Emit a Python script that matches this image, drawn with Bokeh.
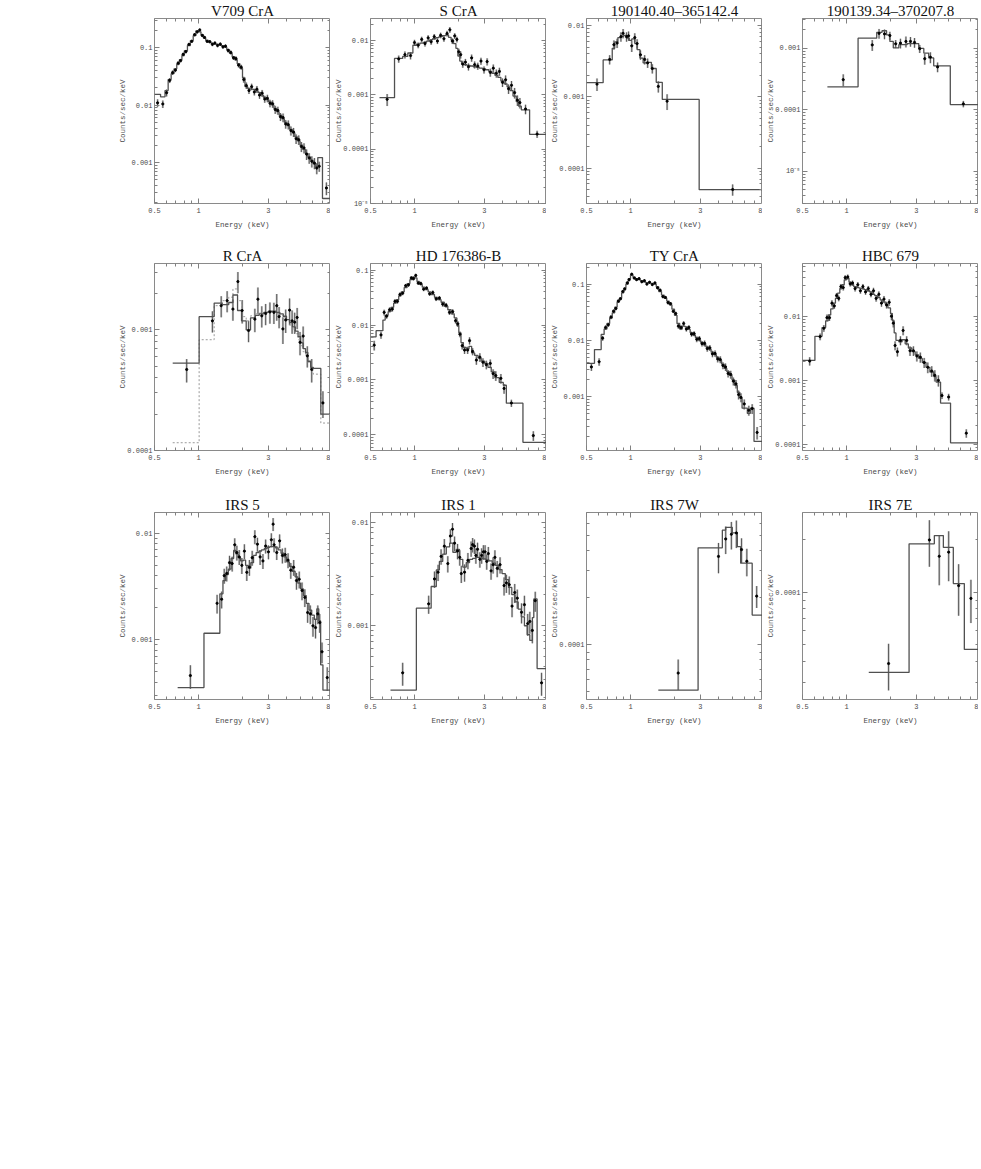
import math
from bokeh.plotting import figure
from bokeh.models import Range1d, FixedTicker, CustomJSTickFormatter, LogAxis, Title
from bokeh.layouts import column, row
from bokeh.embed import file_html
from bokeh.resources import INLINE

# ---------------- axis ticks / labels ----------------
X_TICKS = [0.5, 1, 3, 8]
X_MINOR = [0.6, 0.7, 0.8, 0.9, 2, 4, 5, 6, 7]
Y_MAJOR = [1e-6, 1e-5, 1e-4, 1e-3, 1e-2, 1e-1, 1.0]
Y_MINOR = [k * 10.0 ** n for n in range(-6, 0) for k in range(2, 10)]

# ---------------- V709 CrA ----------------
V709_EDGES = [0.50, 0.55, 0.59, 0.62, 0.65, 0.68, 0.71, 0.74, 0.77, 0.80, 0.84, 0.88, 0.92, 0.96, 1.00,
              1.04, 1.08, 1.12, 1.17, 1.22, 1.27, 1.32, 1.38, 1.44, 1.50, 1.56, 1.63, 1.70, 1.77, 1.84,
              1.92, 2.00, 2.08, 2.17, 2.26, 2.36, 2.46, 2.56, 2.67, 2.78, 2.90, 3.02, 3.15, 3.28, 3.42,
              3.56, 3.71, 3.87, 4.03, 4.20, 4.38, 4.56, 4.75, 4.95, 5.16, 5.38, 5.60, 5.84, 6.08, 6.34,
              6.55, 7.05, 8.0]
V709_MODEL = [0.0155, 0.014, 0.018, 0.028, 0.0355, 0.043, 0.052, 0.062, 0.0735, 0.089,
              0.11, 0.134, 0.163, 0.198, 0.19, 0.17, 0.148, 0.135, 0.125, 0.12,
              0.117, 0.115, 0.112, 0.108, 0.103, 0.093, 0.08, 0.07, 0.062, 0.053,
              0.044, 0.03, 0.021, 0.0195, 0.019, 0.0188, 0.0178, 0.0165, 0.015, 0.0137,
              0.0125, 0.0114, 0.0101, 0.0088, 0.0077, 0.0067, 0.0058, 0.005, 0.0044, 0.0038,
              0.0033, 0.0028, 0.0024, 0.002, 0.0017, 0.00145, 0.00125, 0.0011, 0.00095, 0.00083,
              0.00122, 0.000236]
V709_E = [0.525, 0.57, 0.605, 0.635, 0.665, 0.695, 0.725, 0.755, 0.785, 0.82,
          0.86, 0.90, 0.94, 0.98, 1.02, 1.06, 1.10, 1.145, 1.195, 1.245,
          1.295, 1.35, 1.41, 1.47, 1.53, 1.595, 1.665, 1.735, 1.805, 1.88,
          1.96, 2.04, 2.125, 2.215, 2.31, 2.41, 2.51, 2.615, 2.725, 2.84,
          2.96, 3.085, 3.215, 3.35, 3.49, 3.635, 3.79, 3.95, 4.115, 4.29,
          4.47, 4.655, 4.85, 5.055, 5.27, 5.49, 5.72, 5.96, 6.21, 6.445,
          6.7, 7.5]
V709_Y = [0.011, 0.0105, 0.0165, 0.027, 0.037, 0.041, 0.054, 0.06, 0.077, 0.086,
          0.115, 0.13, 0.17, 0.19, 0.205, 0.165, 0.152, 0.13, 0.128, 0.115,
          0.121, 0.11, 0.116, 0.104, 0.107, 0.09, 0.083, 0.067, 0.065, 0.05,
          0.046, 0.028, 0.022, 0.018, 0.021, 0.017, 0.019, 0.015, 0.0162, 0.0128,
          0.0132, 0.0108, 0.0106, 0.0084, 0.0081, 0.0063, 0.0061, 0.0047, 0.0046, 0.0036,
          0.0034, 0.0026, 0.0025, 0.0019, 0.0018, 0.0014, 0.0012, 0.00105, 0.00098, 0.0008,
          0.00086, 0.00036]
V709_ERR = [0.15, 0.15, 0.14, 0.1, 0.09, 0.08, 0.08, 0.07, 0.07, 0.07,
            0.06, 0.06, 0.06, 0.06, 0.06, 0.06, 0.06, 0.06, 0.06, 0.07,
            0.07, 0.07, 0.07, 0.07, 0.07, 0.08, 0.08, 0.08, 0.09, 0.09,
            0.1, 0.12, 0.13, 0.13, 0.13, 0.13, 0.14, 0.14, 0.14, 0.14,
            0.15, 0.15, 0.15, 0.16, 0.16, 0.16, 0.17, 0.17, 0.18, 0.18,
            0.18, 0.19, 0.19, 0.2, 0.2, 0.21, 0.21, 0.22, 0.22, 0.22,
            0.2, 0.25]

# ---------------- S CrA ----------------
SCRA_EDGES = [0.576, 0.73, 0.83, 0.90, 0.975, 1.03, 1.09, 1.15, 1.21, 1.27, 1.33, 1.40, 1.47, 1.55, 1.63,
              1.71, 1.78, 1.85, 1.92, 1.98, 2.04, 2.10, 2.18, 2.28, 2.40, 2.52, 2.65, 2.78, 2.92, 3.07,
              3.22, 3.38, 3.55, 3.72, 3.90, 4.10, 4.30, 4.50, 4.72, 4.97, 5.15, 5.38, 6.13, 8.0]
SCRA_MODEL = [8.9e-4, 4.7e-3, 5.1e-3, 5.9e-3, 8.2e-3, 8.6e-3, 9.0e-3, 9.3e-3, 9.8e-3, 0.0103,
              0.0108, 0.0113, 0.0118, 0.0123, 0.0127, 0.0115, 0.0103, 0.0088, 0.0072, 0.0052,
              0.0042, 0.0037, 0.0036, 0.0035, 0.0034, 0.0033, 0.0032, 0.0031, 0.003, 0.0029,
              0.0027, 0.0025, 0.0023, 0.0021, 0.0018, 0.0016, 0.0014, 0.0012, 0.00095, 0.00075,
              0.00062, 0.00053, 0.000187]
SCRA_E = [0.65, 0.78, 0.86, 0.94, 1.0, 1.06, 1.12, 1.18, 1.24, 1.30,
          1.365, 1.435, 1.51, 1.59, 1.67, 1.745, 1.815, 1.885, 1.95, 2.01,
          2.07, 2.14, 2.23, 2.34, 2.46, 2.58, 2.71, 2.85, 2.99, 3.14,
          3.30, 3.46, 3.63, 3.81, 4.0, 4.2, 4.4, 4.61, 4.84, 5.06,
          5.26, 5.75, 6.9]
SCRA_Y = [0.00083, 0.0046, 0.0055, 0.0053, 0.0092, 0.0082, 0.0105, 0.0088, 0.0112, 0.0095,
          0.0118, 0.0098, 0.0125, 0.0108, 0.0135, 0.0158, 0.0098, 0.0122, 0.0105, 0.0062,
          0.0055, 0.0037, 0.004, 0.0033, 0.0048, 0.0036, 0.0034, 0.0042, 0.0029, 0.0041,
          0.0026, 0.0031, 0.0025, 0.0027, 0.0017, 0.0019, 0.0013, 0.0015, 0.0011, 0.0008,
          0.00072, 0.00055, 0.00019]
SCRA_ERR = [0.25, 0.15, 0.15, 0.15, 0.12, 0.12, 0.12, 0.12, 0.12, 0.12,
            0.12, 0.12, 0.12, 0.12, 0.12, 0.12, 0.12, 0.12, 0.12, 0.14,
            0.15, 0.15, 0.15, 0.15, 0.15, 0.15, 0.15, 0.15, 0.15, 0.15,
            0.17, 0.17, 0.17, 0.17, 0.18, 0.2, 0.2, 0.2, 0.22, 0.22,
            0.22, 0.2, 0.15]

# ---------------- 190140.40-365142.4 ----------------
S190140_EDGES = [0.50, 0.65, 0.75, 0.78, 0.82, 0.86, 0.90, 0.94, 0.98, 1.02, 1.07, 1.11, 1.16, 1.22, 1.28,
                 1.39, 1.50, 1.65, 2.95, 8.0]
S190140_MODEL = [1.58e-3, 3.3e-3, 4.8e-3, 5.9e-3, 6.8e-3, 7.1e-3, 7.3e-3, 6.7e-3, 6.2e-3, 6.5e-3,
                 5.6e-3, 4.6e-3, 3.5e-3, 3.0e-3, 3.05e-3, 2.5e-3, 1.6e-3, 9.2e-4, 4.97e-5]
S190140_E = [0.59, 0.72, 0.77, 0.81, 0.86, 0.89, 0.94, 0.97, 1.02, 1.07, 1.11, 1.17, 1.25, 1.31, 1.41,
             1.55, 1.78, 5.0]
S190140_Y = [1.51e-3, 3.35e-3, 5.4e-3, 5.7e-3, 7.0e-3, 7.8e-3, 7.0e-3, 7.2e-3, 5.2e-3, 6.8e-3,
             5.6e-3, 3.9e-3, 3.35e-3, 3.0e-3, 2.5e-3, 1.4e-3, 8.7e-4, 5.0e-5]
S190140_ERR = [0.2, 0.15, 0.15, 0.15, 0.15, 0.15, 0.15, 0.15, 0.18, 0.15,
               0.15, 0.15, 0.15, 0.15, 0.15, 0.18, 0.25, 0.18]

# ---------------- 190139.34-370207.8 ----------------
S190139_EDGES = [0.74, 1.20, 1.61, 1.75, 1.88, 1.98, 2.09, 2.28, 2.60, 3.12, 3.38, 3.65, 3.95, 5.13, 8.0]
S190139_MODEL = [2.37e-4, 1.47e-3, 1.83e-3, 1.94e-3, 1.66e-3, 1.3e-3, 1.02e-3, 1.15e-3, 1.2e-3, 1.0e-3,
                 8.4e-4, 7.0e-4, 5.2e-4, 1.22e-4]
S190139_E = [0.95, 1.50, 1.67, 1.82, 1.98, 2.17, 2.34, 2.55, 2.74, 2.92, 3.17, 3.43, 3.75, 4.2, 6.3]
S190139_Y = [3.1e-4, 1.14e-3, 1.76e-3, 1.72e-3, 1.62e-3, 1.19e-3, 1.22e-3, 1.3e-3, 1.3e-3, 1.25e-3,
             9.9e-4, 6.8e-4, 7.2e-4, 5.0e-4, 1.25e-4]
S190139_ERR = [0.22, 0.2, 0.18, 0.18, 0.15, 0.15, 0.18, 0.2, 0.18, 0.18, 0.15, 0.2, 0.2, 0.18, 0.12]

# ---------------- R CrA ----------------
RCRA_EDGES = [0.666, 1.01, 1.28, 1.45, 1.61, 1.72, 1.85, 1.97, 2.12, 2.27, 2.45, 2.6, 2.8, 3.0, 3.2,
              3.4, 3.6, 3.8, 4.0, 4.2, 4.4, 4.6, 4.8, 5.0, 5.2, 5.4, 5.6, 5.85, 6.1, 6.87, 8.0]
RCRA_MODEL = [5.3e-4, 1.29e-3, 1.67e-3, 1.62e-3, 1.69e-3, 1.95e-3, 1.45e-3, 1.19e-3, 1.0e-3, 1.26e-3,
              1.32e-3, 1.36e-3, 1.4e-3, 1.43e-3, 1.43e-3, 1.4e-3, 1.36e-3, 1.3e-3, 1.22e-3, 1.15e-3,
              1.06e-3, 9.8e-4, 8.8e-4, 7.8e-4, 7.0e-4, 6.5e-4, 5.5e-4, 4.9e-4, 4.8e-4, 2.0e-4]
RCRA_MODEL2 = [1.16e-4, 8.3e-4, 1.59e-3, 1.75e-3, 1.87e-3, 2.19e-3, 1.75e-3, 1.29e-3, 1.19e-3, 1.31e-3,
               1.36e-3, 1.38e-3, 1.4e-3, 1.41e-3, 1.4e-3, 1.37e-3, 1.32e-3, 1.26e-3, 1.18e-3, 1.1e-3,
               1.02e-3, 9.3e-4, 8.3e-4, 7.4e-4, 6.6e-4, 6.1e-4, 5.4e-4, 4.6e-4, 4.3e-4, 1.69e-4]
RCRA_E = [0.83, 1.245, 1.43, 1.57, 1.72, 1.86, 1.99, 2.2, 2.43, 2.55,
          2.71, 2.88, 3.08, 3.28, 3.43, 3.56, 3.78, 3.95, 4.2, 4.37,
          4.55, 4.73, 4.95, 5.2, 5.55, 5.95, 7.1]
RCRA_Y = [4.7e-4, 1.19e-3, 1.59e-3, 1.75e-3, 1.49e-3, 2.52e-3, 1.45e-3, 9.9e-4, 1.23e-3, 1.8e-3,
          1.31e-3, 1.37e-3, 1.41e-3, 1.4e-3, 1.59e-3, 1.29e-3, 1.02e-3, 1.21e-3, 1.46e-3, 1.19e-3,
          1.16e-3, 1.27e-3, 7.9e-4, 8.9e-4, 6.1e-4, 4.7e-4, 2.48e-4]
RCRA_ERR = [0.22, 0.2, 0.2, 0.2, 0.2, 0.2, 0.22, 0.2, 0.22, 0.25,
            0.2, 0.2, 0.2, 0.2, 0.25, 0.2, 0.25, 0.22, 0.25, 0.22,
            0.2, 0.2, 0.22, 0.2, 0.2, 0.22, 0.25]

# ---------------- HD 176386-B ----------------
HD_EDGES = [0.50, 0.546, 0.608, 0.63, 0.66, 0.69, 0.72, 0.75, 0.78, 0.81, 0.85, 0.89, 0.93, 0.97, 1.0,
            1.04, 1.08, 1.13, 1.18, 1.24, 1.30, 1.37, 1.44, 1.52, 1.60, 1.69, 1.78, 1.87, 1.95, 2.01,
            2.08, 2.16, 2.26, 2.36, 2.46, 2.58, 2.72, 2.86, 3.02, 3.18, 3.35, 3.55, 3.80, 4.05, 4.25,
            5.52, 8.0]
HD_MODEL = [6.1e-3, 7.9e-3, 0.0123, 0.015, 0.0175, 0.021, 0.025, 0.029, 0.034, 0.04,
            0.048, 0.057, 0.067, 0.075, 0.072, 0.062, 0.055, 0.049, 0.044, 0.04,
            0.036, 0.032, 0.029, 0.026, 0.022, 0.019, 0.016, 0.0135, 0.0098, 0.0072,
            0.0048, 0.0039, 0.0037, 0.0041, 0.0031, 0.0028, 0.0025, 0.0022, 0.002, 0.0017,
            0.0014, 0.0011, 0.0009, 0.0008, 3.77e-4, 7.3e-5]
HD_E = [0.53, 0.59, 0.62, 0.645, 0.675, 0.705, 0.735, 0.765, 0.795, 0.83,
        0.87, 0.91, 0.95, 0.985, 1.02, 1.06, 1.105, 1.155, 1.21, 1.27,
        1.335, 1.405, 1.48, 1.56, 1.645, 1.735, 1.825, 1.91, 1.98, 2.045,
        2.12, 2.2, 2.31, 2.38, 2.5, 2.65, 2.8, 2.94, 3.1, 3.3,
        3.45, 3.6, 3.9, 4.1, 4.6, 6.5]
HD_Y = [4.3e-3, 6.6e-3, 0.017, 0.0145, 0.019, 0.0195, 0.027, 0.027, 0.036, 0.038,
        0.052, 0.054, 0.072, 0.07, 0.08, 0.058, 0.057, 0.045, 0.047, 0.037,
        0.039, 0.03, 0.031, 0.024, 0.023, 0.017, 0.0175, 0.012, 0.0105, 0.0068,
        0.0042, 0.0035, 0.0035, 0.0052, 0.0033, 0.0023, 0.0026, 0.0021, 0.0019, 0.002,
        0.0013, 0.0012, 0.00107, 0.0007, 0.00038, 9.7e-5]
HD_ERR = [0.2, 0.15, 0.12, 0.1, 0.1, 0.1, 0.09, 0.09, 0.09, 0.08,
          0.08, 0.08, 0.07, 0.07, 0.07, 0.07, 0.08, 0.08, 0.08, 0.08,
          0.09, 0.09, 0.09, 0.1, 0.1, 0.1, 0.11, 0.11, 0.12, 0.12,
          0.15, 0.15, 0.15, 0.15, 0.15, 0.18, 0.18, 0.18, 0.18, 0.18,
          0.2, 0.2, 0.2, 0.2, 0.15, 0.2]

# ---------------- TY CrA ----------------
TY_EDGES = [0.50, 0.567, 0.63, 0.66, 0.69, 0.72, 0.75, 0.78, 0.81, 0.84, 0.87, 0.90, 0.93, 0.965, 1.0,
            1.04, 1.08, 1.12, 1.17, 1.22, 1.27, 1.32, 1.38, 1.44, 1.50, 1.56, 1.63, 1.70, 1.77, 1.84,
            1.92, 2.00, 2.08, 2.17, 2.26, 2.36, 2.46, 2.56, 2.67, 2.78, 2.90, 3.02, 3.15, 3.28, 3.42,
            3.56, 3.71, 3.87, 4.03, 4.20, 4.38, 4.56, 4.75, 4.95, 5.16, 5.38, 5.60, 5.80, 6.30, 6.60,
            7.0, 8.0]
TY_MODEL = [3.94e-3, 6.9e-3, 0.0128, 0.016, 0.02, 0.025, 0.031, 0.039, 0.048, 0.057,
            0.07, 0.085, 0.1, 0.125, 0.145, 0.133, 0.125, 0.12, 0.115, 0.11,
            0.106, 0.104, 0.103, 0.1, 0.09, 0.074, 0.064, 0.056, 0.05, 0.043,
            0.036, 0.028, 0.02, 0.016, 0.018, 0.0175, 0.0157, 0.0138, 0.0124, 0.0113,
            0.0102, 0.0093, 0.0084, 0.0077, 0.007, 0.0062, 0.0056, 0.005, 0.0044, 0.0038,
            0.0032, 0.0028, 0.0024, 0.002, 0.0016, 0.0012, 0.00095, 0.00063, 0.00051, 0.00063,
            0.000162]
TY_E = [0.54, 0.61, 0.645, 0.675, 0.705, 0.735, 0.765, 0.795, 0.825, 0.855,
        0.885, 0.915, 0.95, 0.98, 1.02, 1.06, 1.10, 1.145, 1.195, 1.245,
        1.295, 1.35, 1.41, 1.47, 1.53, 1.595, 1.665, 1.735, 1.805, 1.88,
        1.96, 2.04, 2.125, 2.215, 2.31, 2.41, 2.51, 2.615, 2.725, 2.84,
        2.96, 3.085, 3.215, 3.35, 3.49, 3.635, 3.79, 3.95, 4.115, 4.29,
        4.47, 4.655, 4.85, 5.055, 5.27, 5.49, 5.70, 6.0, 6.45, 6.8,
        7.35]
TY_Y = [0.0034, 0.0042, 0.011, 0.017, 0.019, 0.026, 0.033, 0.037, 0.05, 0.055,
        0.074, 0.082, 0.105, 0.12, 0.15, 0.128, 0.12, 0.125, 0.11, 0.115,
        0.1, 0.108, 0.098, 0.105, 0.086, 0.078, 0.06, 0.058, 0.047, 0.045,
        0.033, 0.03, 0.018, 0.017, 0.02, 0.016, 0.017, 0.013, 0.0132, 0.0105,
        0.0108, 0.0088, 0.0089, 0.0072, 0.0074, 0.0058, 0.0059, 0.0047, 0.0046, 0.0036,
        0.0034, 0.0026, 0.0025, 0.0019, 0.0017, 0.0011, 0.00098, 0.00075, 0.00058, 0.00062,
        0.000234]
TY_ERR = [0.15, 0.15, 0.1, 0.09, 0.08, 0.08, 0.07, 0.07, 0.07, 0.06,
          0.06, 0.06, 0.06, 0.06, 0.05, 0.05, 0.05, 0.05, 0.05, 0.05,
          0.05, 0.05, 0.05, 0.05, 0.06, 0.06, 0.06, 0.06, 0.07, 0.07,
          0.07, 0.08, 0.1, 0.1, 0.1, 0.1, 0.1, 0.1, 0.1, 0.11,
          0.11, 0.11, 0.12, 0.12, 0.12, 0.13, 0.13, 0.13, 0.14, 0.14,
          0.15, 0.15, 0.16, 0.16, 0.17, 0.18, 0.18, 0.2, 0.2, 0.2,
          0.25]

# ---------------- HBC 679 ----------------
HBC_EDGES = [0.50, 0.608, 0.68, 0.72, 0.75, 0.78, 0.81, 0.84, 0.87, 0.90, 0.93, 0.965, 1.0, 1.04, 1.08,
             1.12, 1.17, 1.22, 1.27, 1.32, 1.38, 1.44, 1.50, 1.56, 1.63, 1.70, 1.77, 1.84, 1.92, 2.00,
             2.06, 2.12, 2.18, 2.28, 2.40, 2.52, 2.65, 2.80, 2.95, 3.12, 3.30, 3.50, 3.72, 3.95, 4.10,
             4.40, 5.15, 8.0]
HBC_MODEL = [2.05e-3, 4.87e-3, 6.65e-3, 8.5e-3, 0.0105, 0.013, 0.016, 0.019, 0.023, 0.027,
             0.031, 0.037, 0.039, 0.034, 0.031, 0.029, 0.028, 0.0275, 0.027, 0.026,
             0.025, 0.024, 0.022, 0.021, 0.0195, 0.018, 0.0168, 0.0155, 0.0135, 0.011,
             0.0085, 0.0055, 0.0042, 0.004, 0.0043, 0.0037, 0.0032, 0.0028, 0.0025, 0.0022,
             0.0019, 0.0016, 0.00135, 0.00115, 0.00094, 0.000443, 0.000106]
HBC_E = [0.56, 0.66, 0.70, 0.735, 0.765, 0.795, 0.825, 0.855, 0.885, 0.915,
         0.95, 0.98, 1.02, 1.06, 1.10, 1.145, 1.195, 1.245, 1.295, 1.35,
         1.41, 1.47, 1.53, 1.595, 1.665, 1.735, 1.805, 1.88, 1.96, 2.03,
         2.09, 2.15, 2.23, 2.34, 2.44, 2.58, 2.72, 2.87, 3.03, 3.2,
         3.4, 3.6, 3.83, 4.02, 4.25, 4.5, 5.0, 6.6]
HBC_Y = [2.0e-3, 4.8e-3, 6.5e-3, 9.5e-3, 0.0095, 0.016, 0.0145, 0.021, 0.019, 0.029,
         0.028, 0.04, 0.041, 0.032, 0.033, 0.027, 0.031, 0.025, 0.029, 0.024,
         0.027, 0.022, 0.025, 0.019, 0.022, 0.016, 0.0185, 0.015, 0.0165, 0.01,
         0.0078, 0.0035, 0.0028, 0.0042, 0.006, 0.0042, 0.0029, 0.0029, 0.0024, 0.0023,
         0.0019, 0.0016, 0.0014, 0.0012, 0.001, 0.00058, 0.00055, 0.00015]
HBC_ERR = [0.15, 0.12, 0.12, 0.12, 0.11, 0.11, 0.1, 0.1, 0.1, 0.1,
           0.1, 0.09, 0.09, 0.09, 0.09, 0.1, 0.1, 0.1, 0.1, 0.1,
           0.1, 0.1, 0.11, 0.11, 0.11, 0.12, 0.12, 0.12, 0.12, 0.13,
           0.14, 0.16, 0.16, 0.16, 0.16, 0.16, 0.17, 0.17, 0.18, 0.18,
           0.18, 0.19, 0.19, 0.2, 0.2, 0.12, 0.12, 0.15]

# ---------------- IRS 5 ----------------
IRS5_EDGES = [0.72, 1.09, 1.40, 1.47, 1.53, 1.60, 1.67, 1.74, 1.80, 1.87, 1.94, 2.02, 2.10, 2.19, 2.28,
              2.38, 2.48, 2.59, 2.70, 2.82, 2.95, 3.08, 3.22, 3.36, 3.51, 3.67, 3.84, 4.01, 4.19, 4.38,
              4.58, 4.78, 5.0, 5.22, 5.46, 5.70, 5.95, 6.2, 6.45, 6.65, 6.85, 7.1, 8.0]
IRS5_MODEL = [3.55e-4, 1.15e-3, 2.7e-3, 3.6e-3, 4.1e-3, 4.6e-3, 5.8e-3, 6.9e-3, 6.4e-3, 5.9e-3,
              5.5e-3, 5.6e-3, 5.0e-3, 4.7e-3, 5.3e-3, 6.2e-3, 6.6e-3, 6.8e-3, 7.0e-3, 7.2e-3,
              7.4e-3, 7.5e-3, 7.5e-3, 7.3e-3, 7.0e-3, 6.5e-3, 6.0e-3, 5.4e-3, 4.9e-3, 4.4e-3,
              3.9e-3, 3.4e-3, 3.0e-3, 2.6e-3, 2.2e-3, 1.9e-3, 1.7e-3, 1.55e-3, 1.95e-3, 1.5e-3,
              5.8e-4, 3.35e-4]
IRS5_E = [0.88, 1.34, 1.44, 1.50, 1.56, 1.63, 1.70, 1.77, 1.83, 1.90,
          1.98, 2.06, 2.14, 2.23, 2.33, 2.43, 2.53, 2.64, 2.76, 2.88,
          3.01, 3.15, 3.24, 3.29, 3.43, 3.59, 3.75, 3.92, 4.10, 4.28,
          4.48, 4.68, 4.89, 5.11, 5.34, 5.58, 5.82, 6.07, 6.32, 6.55,
          6.75, 7.0, 7.6]
IRS5_Y = [4.6e-4, 2.2e-3, 2.4e-3, 4.0e-3, 4.2e-3, 5.3e-3, 5.2e-3, 7.8e-3, 6.6e-3, 6.0e-3,
          5.0e-3, 6.8e-3, 4.3e-3, 4.8e-3, 5.9e-3, 9.3e-3, 7.9e-3, 6.0e-3, 5.5e-3, 7.6e-3,
          6.7e-3, 8.7e-3, 0.0122, 7.8e-3, 6.6e-3, 8.5e-3, 6.2e-3, 6.3e-3, 5.6e-3, 4.5e-3,
          4.8e-3, 3.6e-3, 3.7e-3, 2.9e-3, 2.5e-3, 1.8e-3, 1.75e-3, 1.35e-3, 1.3e-3, 1.75e-3,
          1.45e-3, 7.7e-4, 4.4e-4]
IRS5_ERR = [0.25, 0.2, 0.18, 0.16, 0.16, 0.16, 0.16, 0.15, 0.16, 0.16,
            0.17, 0.16, 0.17, 0.17, 0.16, 0.15, 0.15, 0.16, 0.16, 0.15,
            0.15, 0.15, 0.14, 0.15, 0.15, 0.15, 0.16, 0.16, 0.16, 0.17,
            0.17, 0.18, 0.18, 0.19, 0.19, 0.2, 0.2, 0.21, 0.21, 0.2,
            0.2, 0.22, 0.25]

# ---------------- IRS 1 ----------------
IRS1_EDGES = [0.685, 1.03, 1.30, 1.41, 1.48, 1.56, 1.65, 1.74, 1.83, 1.93, 2.03, 2.14, 2.26, 2.38, 2.50,
              2.63, 2.77, 2.92, 3.07, 3.23, 3.40, 3.58, 3.77, 3.97, 4.18, 4.40, 4.63, 4.87, 5.12, 5.38,
              5.65, 5.90, 6.15, 6.40, 6.55, 6.90, 8.0]
IRS1_MODEL = [2.38e-4, 1.48e-3, 2.4e-3, 3.47e-3, 4.2e-3, 4.95e-3, 5.8e-3, 6.3e-3, 5.15e-3, 5.5e-3,
              4.4e-3, 3.7e-3, 4.1e-3, 4.4e-3, 4.5e-3, 4.6e-3, 4.55e-3, 4.45e-3, 4.35e-3, 4.25e-3,
              4.05e-3, 3.85e-3, 3.5e-3, 3.2e-3, 2.8e-3, 2.35e-3, 2.0e-3, 1.7e-3, 1.45e-3, 1.22e-3,
              1.0e-3, 8.2e-4, 7.2e-4, 1.2e-3, 1.82e-3, 3.85e-4]
IRS1_E = [0.83, 1.25, 1.37, 1.45, 1.52, 1.60, 1.69, 1.76, 1.82, 1.88,
          1.97, 2.04, 2.09, 2.2, 2.32, 2.44, 2.5, 2.57, 2.63, 2.7,
          2.8, 2.88, 2.96, 3.04, 3.12, 3.2, 3.34, 3.45, 3.55, 3.68,
          3.85, 4.1, 4.25, 4.45, 4.65, 4.85, 5.05, 5.4, 5.65, 5.95,
          6.15, 6.4, 6.7, 7.4]
IRS1_Y = [3.5e-4, 1.63e-3, 2.84e-3, 3.3e-3, 4.7e-3, 5.9e-3, 4.0e-3, 7.4e-3, 8.6e-3, 6.3e-3,
          5.3e-3, 4.6e-3, 3.2e-3, 3.3e-3, 4.3e-3, 5.6e-3, 6.1e-3, 5.9e-3, 4.8e-3, 5.5e-3,
          4.4e-3, 4.8e-3, 5.2e-3, 5.2e-3, 4.2e-3, 5.0e-3, 3.4e-3, 3.9e-3, 4.6e-3, 3.6e-3,
          3.9e-3, 2.45e-3, 2.6e-3, 2.5e-3, 1.55e-3, 2.1e-3, 1.85e-3, 1.35e-3, 1.6e-3, 1.05e-3,
          1.1e-3, 9.0e-4, 1.75e-3, 2.8e-4]
IRS1_ERR = [0.25, 0.2, 0.18, 0.18, 0.17, 0.17, 0.18, 0.16, 0.15, 0.16,
            0.17, 0.17, 0.19, 0.19, 0.18, 0.17, 0.16, 0.16, 0.17, 0.16,
            0.17, 0.17, 0.16, 0.16, 0.17, 0.16, 0.18, 0.18, 0.17, 0.18,
            0.18, 0.2, 0.2, 0.2, 0.22, 0.21, 0.21, 0.22, 0.22, 0.24,
            0.24, 0.25, 0.22, 0.25]

# ---------------- IRS 7W ----------------
IRS7W_EDGES = [1.55, 2.9, 4.25, 4.48, 4.97, 5.38, 5.67, 6.8, 8.0]
IRS7W_MODEL = [5.13e-5, 4.18e-4, 5.43e-4, 5.65e-4, 5.2e-4, 4.25e-4, 3.33e-4, 1.55e-4]
IRS7W_E = [2.12, 4.0, 4.48, 4.9, 5.3, 5.75, 6.25, 7.3]
IRS7W_Y = [6.6e-5, 3.68e-4, 4.76e-4, 5.1e-4, 5.2e-4, 4.07e-4, 3.43e-4, 2.05e-4]
IRS7W_ERR = [0.22, 0.22, 0.2, 0.2, 0.2, 0.18, 0.2, 0.16]

# ---------------- IRS 7E ----------------
IRS7E_EDGES = [1.42, 2.68, 3.99, 4.6, 5.38, 6.4, 8.0]
IRS7E_MODEL = [3.44e-5, 1.9e-4, 2.12e-4, 1.81e-4, 1.12e-4, 4.67e-5]
IRS7E_E = [1.94, 3.69, 4.31, 5.0, 5.85, 7.1]
IRS7E_Y = [3.87e-5, 2.0e-4, 1.61e-4, 1.7e-4, 1.09e-4, 9.2e-5]
IRS7E_ERR = [0.3, 0.3, 0.32, 0.32, 0.33, 0.28]

TITLES = ["V709 CrA", "S CrA", "190140.40\u2013365142.4", "190139.34\u2013370207.8",
          "R CrA", "HD 176386-B", "TY CrA", "HBC 679",
          "IRS 5", "IRS 1", "IRS 7W", "IRS 7E"]
Y_RANGES = [(1.93e-4, 0.325), (1e-5, 0.0255), (3.18e-5, 0.0126), (2.99e-6, 3.07e-3),
            (1e-4, 3.56e-3), (5.19e-5, 0.132), (1.12e-4, 0.232), (8.06e-5, 0.0665),
            (2.74e-4, 0.0157), (1.93e-4, 0.0125), (4.47e-5, 7.03e-4), (2.4e-5, 2.88e-4)]

PANELS = [
    (V709_EDGES, V709_MODEL, None, V709_E, V709_Y, V709_ERR),
    (SCRA_EDGES, SCRA_MODEL, None, SCRA_E, SCRA_Y, SCRA_ERR),
    (S190140_EDGES, S190140_MODEL, None, S190140_E, S190140_Y, S190140_ERR),
    (S190139_EDGES, S190139_MODEL, None, S190139_E, S190139_Y, S190139_ERR),
    (RCRA_EDGES, RCRA_MODEL, RCRA_MODEL2, RCRA_E, RCRA_Y, RCRA_ERR),
    (HD_EDGES, HD_MODEL, None, HD_E, HD_Y, HD_ERR),
    (TY_EDGES, TY_MODEL, None, TY_E, TY_Y, TY_ERR),
    (HBC_EDGES, HBC_MODEL, None, HBC_E, HBC_Y, HBC_ERR),
    (IRS5_EDGES, IRS5_MODEL, None, IRS5_E, IRS5_Y, IRS5_ERR),
    (IRS1_EDGES, IRS1_MODEL, None, IRS1_E, IRS1_Y, IRS1_ERR),
    (IRS7W_EDGES, IRS7W_MODEL, None, IRS7W_E, IRS7W_Y, IRS7W_ERR),
    (IRS7E_EDGES, IRS7E_MODEL, None, IRS7E_E, IRS7E_Y, IRS7E_ERR),
]

# ---------------- styling / layout ----------------
FRAME_W, FRAME_H = 176, 187
TOPS = [16, 19, 19]
BOTTOMS = [41, 43, 30]
LEFT_FIRST, LEFT_OTHER = 154, 40
TICK_FONT_PX = 7.0
LABEL_FONT = "Liberation Mono"
TITLE_FONT = "Liberation Serif"
TICK_COLOR = "#808080"
LABEL_COLOR = "#4a4a4a"

Y_FMT_CODE = """
const e = Math.round(Math.log10(tick));
if (e < -4) {
  const sup = {'-': '\u207b', '0': '\u2070', '1': '\u00b9', '2': '\u00b2', '3': '\u00b3', '4': '\u2074',
               '5': '\u2075', '6': '\u2076', '7': '\u2077', '8': '\u2078', '9': '\u2079'};
  return '10' + String(e).split('').map(c => sup[c]).join('');
}
if (e >= 0) { return String(Math.round(tick)); }
return tick.toFixed(-e);
"""


def step_xy(edges, vals):
    xs, ys = [], []
    for a, b, v in zip(edges[:-1], edges[1:], vals):
        xs += [a, b]
        ys += [v, v]
    return xs, ys


def widest_tick_chars(yr):
    # number of characters of the widest labelled decade inside the y range
    best = 1
    for t in Y_MAJOR:
        if yr[0] * 0.999 <= t <= yr[1] * 1.001:
            n = int(round(math.log10(t)))
            best = max(best, 4 if n < -4 else (2 - n if n < 0 else 1))
    return best


def style_axis(ax, show_labels):
    ax.axis_line_color = None
    ax.major_tick_in = 5
    ax.major_tick_out = 0
    ax.minor_tick_in = 3
    ax.minor_tick_out = 0
    ax.major_tick_line_color = TICK_COLOR
    ax.minor_tick_line_color = TICK_COLOR
    ax.major_label_text_font = LABEL_FONT
    ax.major_label_text_color = LABEL_COLOR
    if show_labels:
        ax.major_label_text_font_size = "%gpx" % TICK_FONT_PX
        ax.major_label_standoff = 2
    else:
        ax.major_label_text_font_size = "0px"
        ax.major_label_standoff = 0


def make_panel(i):
    edges, model, model2, e, y, err = PANELS[i]
    yr = Y_RANGES[i]
    col, r = i % 4, i // 4
    L = LEFT_FIRST if col == 0 else LEFT_OTHER
    T, B = TOPS[r], BOTTOMS[r]
    p = figure(width=L + FRAME_W, height=T + FRAME_H + B,
               x_axis_type="log", y_axis_type="log",
               x_range=Range1d(0.5, 8.0), y_range=Range1d(*yr),
               output_backend="svg", toolbar_location=None,
               min_border_left=L, min_border_right=0, min_border_top=T, min_border_bottom=B)
    p.background_fill_color = "white"
    p.border_fill_color = "white"
    p.outline_line_color = "#8a8a8a"
    p.outline_line_width = 1
    p.xgrid.visible = False
    p.ygrid.visible = False

    p.title = Title(text=TITLES[i], align="center", text_font=TITLE_FONT,
                    text_font_size="15px", text_font_style="normal", text_color="#111111",
                    standoff=0, offset=0)

    xa = p.xaxis[0]
    xa.ticker = FixedTicker(ticks=X_TICKS, minor_ticks=X_MINOR)
    xa.formatter = CustomJSTickFormatter(code="return String(tick);")
    style_axis(xa, True)
    xa.major_label_standoff = 4
    xa.axis_label = "Energy (keV)"
    xa.axis_label_text_font = LABEL_FONT
    xa.axis_label_text_font_size = "7.5px"
    xa.axis_label_text_font_style = "normal"
    xa.axis_label_text_color = LABEL_COLOR
    xa.axis_label_standoff = 5

    ya = p.yaxis[0]
    ya.ticker = FixedTicker(ticks=Y_MAJOR, minor_ticks=Y_MINOR)
    ya.formatter = CustomJSTickFormatter(code=Y_FMT_CODE)
    style_axis(ya, True)
    ya.axis_label = "Counts/sec/keV"
    ya.axis_label_text_font = LABEL_FONT
    ya.axis_label_text_font_size = "7.5px"
    ya.axis_label_text_font_style = "normal"
    ya.axis_label_text_color = LABEL_COLOR
    # keep the y title at a fixed distance from the frame, as in the original
    ya.axis_label_standoff = int(round(-3 + (6 - widest_tick_chars(yr)) * 0.6 * TICK_FONT_PX))

    top = LogAxis(ticker=FixedTicker(ticks=X_TICKS, minor_ticks=X_MINOR),
                  formatter=CustomJSTickFormatter(code="return '';"))
    style_axis(top, False)
    p.add_layout(top, "above")
    right = LogAxis(ticker=FixedTicker(ticks=Y_MAJOR, minor_ticks=Y_MINOR),
                    formatter=CustomJSTickFormatter(code="return '';"))
    style_axis(right, False)
    p.add_layout(right, "right")

    lo = [v * (1 - f) for v, f in zip(y, err)]
    hi = [v * (1 + f) for v, f in zip(y, err)]
    ee = e[:len(lo)]
    p.segment(x0=ee, y0=lo, x1=ee, y1=hi, line_color="#c8c8c8", line_width=2.2)
    p.segment(x0=ee, y0=lo, x1=ee, y1=hi, line_color="#3c3c3c", line_width=0.8)

    if model2 is not None:
        xs2, ys2 = step_xy(edges, model2)
        p.line(xs2, ys2, line_color="#9a9a9a", line_width=1.0, line_dash="2 2")
    xs, ys = step_xy(edges, model)
    p.line(xs, ys, line_color="#505050", line_width=1.3)

    p.scatter(ee, y[:len(ee)], size=2.2, color="black", marker="circle")
    return p


figs = [make_panel(i) for i in range(12)]
layout = column(*[row(*figs[r * 4:(r + 1) * 4]) for r in range(3)])
open("out.html", "w").write(file_html(layout, INLINE, title="X-ray spectra"))
